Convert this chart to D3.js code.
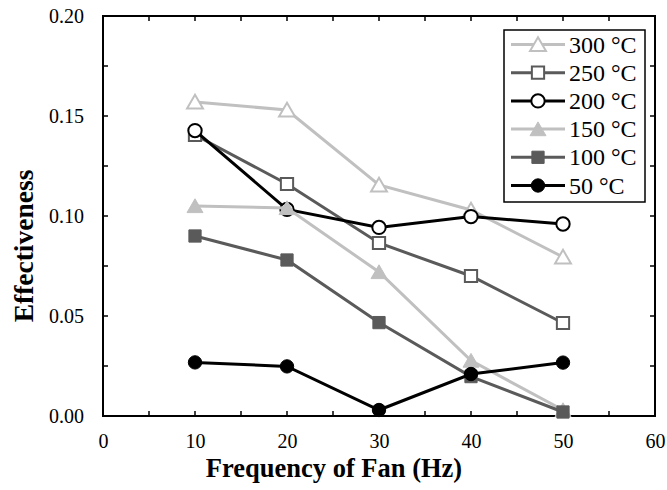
<!DOCTYPE html>
<html>
<head>
<meta charset="utf-8">
<script src="https://cdn.jsdelivr.net/npm/d3@7"></script>
</head>
<body style="margin:0">
<div id="chart"></div>
<script>
// Data
var frequencies = [10, 20, 30, 40, 50]
var s300 = [0.157, 0.153, 0.1155, 0.103, 0.0795]
var s250 = [0.1405, 0.116, 0.0865, 0.070, 0.0465]
var s200 = [0.1427, 0.1033, 0.0943, 0.0997, 0.096]
var s150 = [0.105, 0.104, 0.072, 0.0277, 0.003]
var s100 = [0.090, 0.078, 0.0467, 0.0197, 0.002]
var s50 = [0.0268, 0.0248, 0.003, 0.021, 0.0267]
var seriesNames = ['300 °C', '250 °C', '200 °C', '150 °C', '100 °C', '50 °C']
var xTicks = [0, 10, 20, 30, 40, 50, 60]
var yTicks = [0, 0.05, 0.1, 0.15, 0.2]

var light = '#c0c0c0'
var dark = '#5a5a5a'
var black = '#000'
var serif = 'Liberation Serif'

var series = [
  { name: seriesNames[0], values: s300, color: light, shape: 'triangle', open: true },
  { name: seriesNames[1], values: s250, color: dark, shape: 'square', open: true },
  { name: seriesNames[2], values: s200, color: black, shape: 'circle', open: true },
  { name: seriesNames[3], values: s150, color: light, shape: 'triangle', open: false },
  { name: seriesNames[4], values: s100, color: dark, shape: 'square', open: false },
  { name: seriesNames[5], values: s50, color: black, shape: 'circle', open: false }
]

var margin = { top: 16, left: 103, right: 12, bottom: 74 }
var width = 667 - margin.left - margin.right
var height = 490 - margin.top - margin.bottom

var svg = d3
  .select('#chart')
  .append('svg')
  .attr('width', 667)
  .attr('height', 490)

var g = svg.append('g').attr('transform', `translate(${margin.left},${margin.top})`)

var xPositionScale = d3.scaleLinear().domain([0, 60]).range([0, width])
var yPositionScale = d3.scaleLinear().domain([0, 0.2]).range([height, 0])

// Ticks pointing inward on all four sides
var xMinor = d3.range(0, 61, 5)
var yMinor = d3.range(0, 0.2001, 0.025)

function tickMarks(sel, vals, isX, pos, dir) {
  sel
    .selectAll(null)
    .data(vals)
    .enter()
    .append('line')
    .attr('x1', d => (isX ? xPositionScale(d) : pos))
    .attr('x2', d => (isX ? xPositionScale(d) : pos + dir * 5))
    .attr('y1', d => (isX ? pos : yPositionScale(d)))
    .attr('y2', d => (isX ? pos + dir * 5 : yPositionScale(d)))
    .attr('stroke', '#000')
    .attr('stroke-width', 1.5)
}

var ticks = g.append('g').attr('class', 'ticks')
tickMarks(ticks, xMinor, true, height, -1)
tickMarks(ticks, xMinor, true, 0, 1)
tickMarks(ticks, yMinor, false, 0, 1)
tickMarks(ticks, yMinor, false, width, -1)

// Frame
g.append('rect')
  .attr('width', width)
  .attr('height', height)
  .attr('fill', 'none')
  .attr('stroke', '#000')
  .attr('stroke-width', 2)

// Tick labels via axes (no tick lines)
var xAxis = d3
  .axisBottom(xPositionScale)
  .tickValues(xTicks)
  .tickSize(0)
  .tickPadding(18)
  .tickFormat(d3.format('d'))
g.append('g')
  .attr('class', 'axis x-axis')
  .attr('transform', 'translate(0,' + height + ')')
  .call(xAxis)

var yAxis = d3
  .axisLeft(yPositionScale)
  .tickValues(yTicks)
  .tickSize(0)
  .tickPadding(19)
  .tickFormat(d3.format('.2f'))
g.append('g')
  .attr('class', 'axis y-axis')
  .call(yAxis)

g.selectAll('.axis').attr('font-family', serif)
g.selectAll('.axis .domain').remove()
g.selectAll('.axis text')
  .attr('font-family', serif)
  .attr('font-size', 20)
  .attr('fill', '#000')

// Axis titles
svg
  .append('text')
  .attr('x', 334)
  .attr('y', 477)
  .attr('text-anchor', 'middle')
  .attr('font-family', serif)
  .attr('font-size', 26.5)
  .attr('font-weight', 'bold')
  .text('Frequency of Fan (Hz)')

svg
  .append('text')
  .attr('transform', 'translate(33,246) rotate(-90)')
  .attr('text-anchor', 'middle')
  .attr('font-family', serif)
  .attr('font-size', 27.5)
  .attr('font-weight', 'bold')
  .text('Effectiveness')

// Lines and markers
var line = d3
  .line()
  .x((d, i) => xPositionScale(frequencies[i]))
  .y(d => yPositionScale(d))

var symbolType = { triangle: d3.symbolTriangle, square: d3.symbolSquare, circle: d3.symbolCircle }
var symbolSize = { triangle: 110, square: 150, circle: 140 }

function drawMarker(sel, s) {
  sel
    .attr('d', d3.symbol().type(symbolType[s.shape]).size(symbolSize[s.shape]))
    .attr('fill', s.open ? '#fff' : s.color)
    .attr('stroke', s.color)
    .attr('stroke-width', s.open ? 2 : 1)
}

series.forEach(function(s) {
  var sg = g.append('g').attr('class', 'series')
  sg.append('path')
    .attr('d', line(s.values))
    .attr('fill', 'none')
    .attr('stroke', s.color)
    .attr('stroke-width', 3)
  sg.selectAll('.marker')
    .data(s.values)
    .enter()
    .append('path')
    .attr('class', 'marker')
    .attr('transform', (d, i) => {
      var dy = s.shape === 'triangle' ? 2 : 0
      return `translate(${xPositionScale(frequencies[i])},${yPositionScale(d) + dy})`
    })
    .call(drawMarker, s)
})

// Legend
var legend = svg.append('g').attr('class', 'legend')
legend
  .append('rect')
  .attr('x', 504)
  .attr('y', 30)
  .attr('width', 141)
  .attr('height', 172)
  .attr('fill', '#fff')
  .attr('stroke', '#000')
  .attr('stroke-width', 1.5)

series.forEach(function(s, i) {
  var y = 44.5 + i * 28.2
  var lg = legend.append('g')
  lg.append('line')
    .attr('x1', 511)
    .attr('x2', 565)
    .attr('y1', y)
    .attr('y2', y)
    .attr('stroke', s.color)
    .attr('stroke-width', 3)
  lg.append('path')
    .attr('transform', `translate(538,${y + (s.shape === 'triangle' ? 2 : 0)})`)
    .call(drawMarker, s)
  lg.append('text')
    .attr('x', 569)
    .attr('y', y + 8)
    .attr('font-family', serif)
    .attr('font-size', 24)
    .text(s.name)
})
</script>
</body>
</html>
